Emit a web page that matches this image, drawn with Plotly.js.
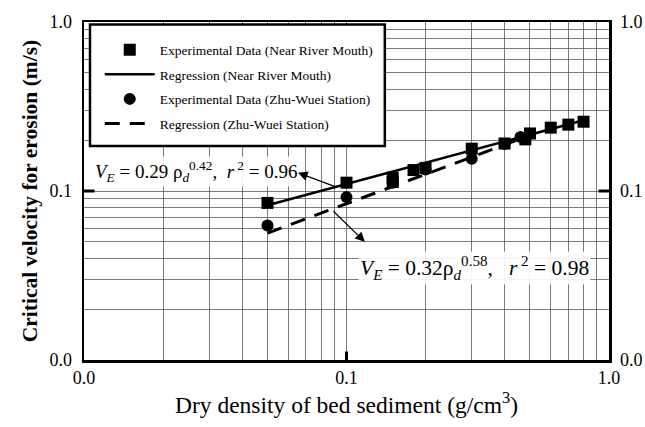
<!DOCTYPE html>
<html>
<head>
<meta charset="utf-8">
<script src="https://cdn.plot.ly/plotly-3.0.1.min.js"></script>
<style>html,body{margin:0;padding:0;background:#fff;}#chart{width:645px;height:427px;}</style>
</head>
<body>
<div id="chart"></div>
<script>
// Data
var nearX = [0.05, 0.1, 0.15, 0.15, 0.18, 0.2, 0.3, 0.4, 0.48, 0.5, 0.6, 0.7, 0.8];
var nearY = [0.085, 0.112, 0.113, 0.12, 0.133, 0.137, 0.178, 0.191, 0.202, 0.219, 0.237, 0.247, 0.257];
var zhuX = [0.05, 0.1, 0.15, 0.2, 0.3, 0.4, 0.46];
var zhuY = [0.0625, 0.092, 0.112, 0.134, 0.155, 0.19, 0.209];
var nearRegX = [0.05, 0.8];
var nearRegY = [0.0824, 0.262];
var zhuRegX = [0.05, 0.47];
var zhuRegY = [0.0563, 0.206];
var tickVals = [0.01, 0.1, 1];
var tickText = ['0.0', '0.1', '1.0'];
var legendNames = ['Experimental Data (Near River Mouth)', 'Regression (Near River Mouth)',
                   'Experimental Data (Zhu-Wuei Station)', 'Regression (Zhu-Wuei Station)'];

var minorVals = [];
[0.01, 0.1].forEach(function (d) { for (var k = 2; k <= 9; k++) minorVals.push(+(d * k).toFixed(3)); });

var serif = 'Liberation Serif, Times New Roman, serif';

var traces = [
  {x: nearX, y: nearY, mode: 'markers', type: 'scatter', name: legendNames[0], legendgroup: 'a',
   marker: {symbol: 'square', size: 12, color: '#000'}},
  {x: nearRegX, y: nearRegY, mode: 'lines', type: 'scatter', name: legendNames[1], legendgroup: 'b',
   line: {color: '#000', width: 2.5}},
  {x: zhuX, y: zhuY, mode: 'markers', type: 'scatter', name: legendNames[2], legendgroup: 'c',
   marker: {symbol: 'circle', size: 12, color: '#000'}},
  {x: zhuRegX, y: zhuRegY, mode: 'lines', type: 'scatter', name: legendNames[3], legendgroup: 'd',
   line: {color: '#000', width: 3, dash: '15px,10px'}},
  {x: [0.1], y: [0.1], yaxis: 'y2', mode: 'markers', marker: {opacity: 0}, showlegend: false, hoverinfo: 'skip'}
];

var gridCol = '#5a5a5a';
var axisCommon = {
  type: 'log', range: [-2, 0], tickvals: tickVals, ticktext: tickText, ticks: '',
  showline: true, linecolor: '#000', linewidth: 2.5, mirror: true,
  showgrid: true, gridcolor: gridCol, gridwidth: 0.8, zeroline: false,
  tickfont: {family: serif, size: 18, color: '#000'},
  minor: {tickmode: 'array', tickvals: minorVals, showgrid: true, gridcolor: gridCol, gridwidth: 0.8, ticks: ''}
};

var layout = {
  width: 645, height: 427,
  margin: {l: 84, r: 36, t: 22, b: 67},
  paper_bgcolor: '#fff', plot_bgcolor: '#fff',
  font: {family: serif, color: '#000'},
  showlegend: true,
  xaxis: Object.assign({}, axisCommon, {
    ticklabelstandoff: 0,
    title: {text: 'Dry density of bed sediment (g/cm<sup>3</sup>)', font: {family: serif, size: 23.5, color: '#000'}, standoff: 6}
  }),
  yaxis: Object.assign({}, axisCommon, {
    ticklabelstandoff: 6,
    title: {text: '<b>Critical velocity for erosion (m/s)</b>', font: {family: serif, size: 21.5, color: '#000'}, standoff: 6}
  }),
  yaxis2: {
    type: 'log', range: [-2, 0], overlaying: 'y', side: 'right', tickvals: tickVals, ticktext: tickText,
    ticks: '', showgrid: false, showline: false, zeroline: false, ticklabelstandoff: 10,
    tickfont: {family: serif, size: 18, color: '#000'}
  },
  legend: {
    x: 0.03, y: 0.963, xanchor: 'left', yanchor: 'top',
    bgcolor: 'rgba(0,0,0,0)', borderwidth: 0,
    font: {family: serif, size: 13.5, color: '#000'},
    traceorder: 'grouped', tracegroupgap: 4, itemwidth: 50
  },
  shapes: [
    {type: 'rect', xref: 'paper', yref: 'paper', x0: 0.0114, x1: 0.573, y0: 0.633, y1: 0.9926,
     fillcolor: '#fff', line: {color: '#000', width: 2.5}, layer: 'above'},
    {type: 'line', xref: 'paper', yref: 'paper', x0: 0.5, x1: 0.5, y0: 0, y1: 0.025, line: {color: '#000', width: 3}},
    {type: 'line', xref: 'paper', yref: 'paper', x0: 0, x1: 0.02, y0: 0.5, y1: 0.5, line: {color: '#000', width: 3}},
    {type: 'line', xref: 'paper', yref: 'paper', x0: 0.98, x1: 1, y0: 0.5, y1: 0.5, line: {color: '#000', width: 3}}
  ],
  annotations: [
    {xref: 'paper', yref: 'paper', x: 0.018, y: 0.557, xanchor: 'left', yanchor: 'middle', showarrow: false,
     text: '<i>V</i><sub><i>E</i></sub> = 0.29 ρ<sub><i>d</i></sub><sup>0.42</sup>,  <i>r</i><sup> 2</sup> = 0.96',
     font: {family: serif, size: 19, color: '#000'}, bgcolor: 'rgba(255,255,255,0.9)'},
    {xref: 'paper', yref: 'paper', x: 0.522, y: 0.2726, xanchor: 'left', yanchor: 'middle', showarrow: false,
     text: '<i>V</i><sub><i>E</i></sub> = 0.32ρ<sub><i>d</i></sub><sup>0.58</sup>, &nbsp;&nbsp;<i>r</i><sup> 2</sup> = 0.98',
     font: {family: serif, size: 21.5, color: '#000'}, bgcolor: 'rgba(255,255,255,0.9)'},
    {xref: 'paper', yref: 'paper', x: 0.4076, y: 0.554, ax: 40, ay: 15, text: '', showarrow: true,
     arrowhead: 2, arrowsize: 1.6, arrowwidth: 1.2, arrowcolor: '#000', standoff: 0},
    {xref: 'paper', yref: 'paper', x: 0.535, y: 0.3496, ax: -33, ay: -32, text: '', showarrow: true,
     arrowhead: 2, arrowsize: 1.6, arrowwidth: 1.2, arrowcolor: '#000', standoff: 0}
  ]
};

Plotly.newPlot('chart', traces, layout, {displayModeBar: false, staticPlot: true});
</script>
</body>
</html>
